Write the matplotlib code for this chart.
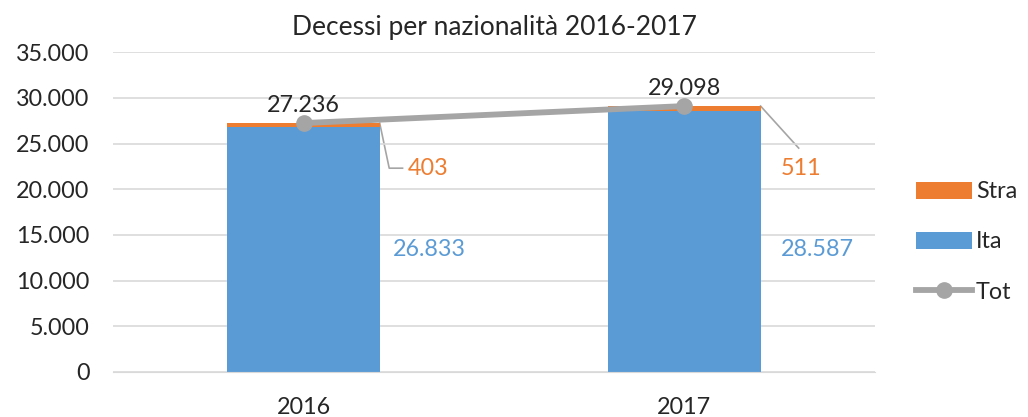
import numpy as np
import matplotlib.pyplot as plt
from matplotlib.ticker import FuncFormatter

plt.rcParams['font.family'] = ['Lato', 'DejaVu Sans']

anni = ['2016', '2017']
ita = [26833, 28587]
stra = [403, 511]
tot = [27236, 29098]

blu = '#5B9BD5'
arancio = '#ED7D31'
grigio = '#A5A5A5'
fs = 16.8

fig = plt.figure(figsize=(10.28, 4.17), dpi=100)
ax = fig.add_axes([0.110, 0.108, 0.741, 0.767])

x = np.arange(len(anni))
w = 0.4
b_ita = ax.bar(x, ita, w, color=blu, label='Ita', zorder=2)
b_stra = ax.bar(x, stra, w, bottom=ita, color=arancio, label='Stra', zorder=2)
l_tot, = ax.plot(x, tot, color=grigio, lw=4.2, marker='o', markersize=11,
                 label='Tot', zorder=3)

ax.set_xlim(-0.5, 1.5)
ax.set_ylim(0, 35000)
ax.set_yticks(np.arange(0, 35001, 5000))
ax.yaxis.set_major_formatter(FuncFormatter(lambda v, p: f'{int(v):,}'.replace(',', '.')))
ax.set_xticks(x)
ax.set_xticklabels(anni)
ax.grid(axis='y', color='#D9D9D9', lw=1.2, zorder=0)
for s in ['top', 'right', 'left']:
    ax.spines[s].set_visible(False)
ax.spines['bottom'].set_color('#D9D9D9')
ax.tick_params(axis='both', length=0, labelsize=fs, colors='#262626')
ax.tick_params(axis='y', pad=17)
ax.tick_params(axis='x', pad=18)

ax.set_title('Decessi per nazionalità 2016-2017', fontsize=19, color='#262626', pad=12)

fmt = lambda v: f'{v:,}'.replace(',', '.')

# etichette totale
for i in x:
    ax.text(i, tot[i] + 800, fmt(tot[i]), ha='center', va='bottom', fontsize=fs, color='#262626')

# etichette Ita
for i in x:
    ax.text(i + w / 2 + 0.13 + 0.02 * i, 13400, fmt(ita[i]), ha='center', va='center',
            fontsize=fs, color=blu)

# etichette Stra con linee guida
yl = 22300
ax.plot([w / 2, w / 2 + 0.025, w / 2 + 0.06], [tot[0], yl, yl], color=grigio, lw=1.2, zorder=1)
ax.text(w / 2 + 0.075, yl, fmt(stra[0]), ha='left', va='center', fontsize=fs, color=arancio)
ax.plot([1 + w / 2, 1 + w / 2 + 0.1], [tot[1], 24500], color=grigio, lw=1.2, zorder=1)
ax.text(1 + w / 2 + 0.105, yl, fmt(stra[1]), ha='center', va='center', fontsize=fs, color=arancio)

fig.legend(handles=[b_stra, b_ita, l_tot], loc='center left', bbox_to_anchor=(0.871, 0.42),
           frameon=False, fontsize=fs, handlelength=2.4, handleheight=0.75,
           labelspacing=1.25, handletextpad=0.15, labelcolor='#262626')

fig.savefig('out.png', dpi=100)
